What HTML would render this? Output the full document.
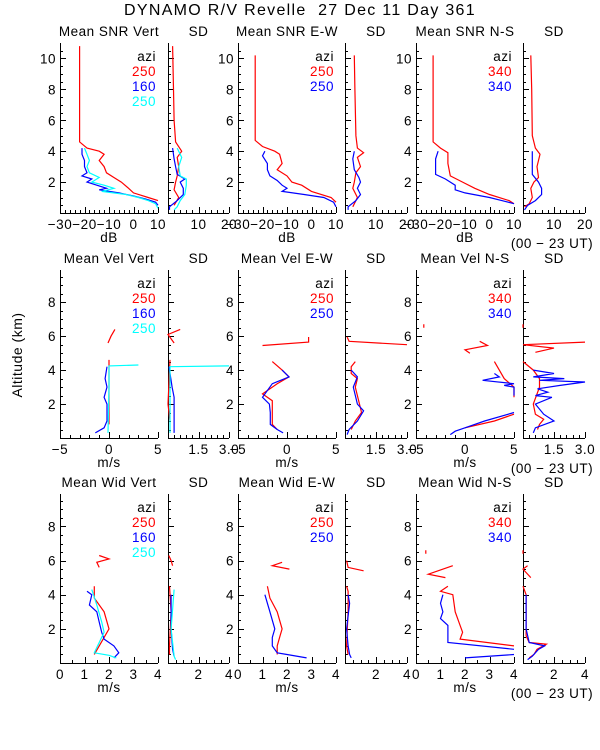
<!DOCTYPE html>
<html><head><meta charset="utf-8">
<style>
html,body{margin:0;padding:0;background:#fff;}
svg{display:block;font-family:"Liberation Sans",sans-serif;}
svg text{white-space:pre;letter-spacing:0.5px;}
</style></head>
<body>
<svg id="chart" width="600" height="750" viewBox="0 0 600 750" xmlns="http://www.w3.org/2000/svg">
<text x="300" y="15" font-size="16" text-anchor="middle" style="letter-spacing:1.3px">DYNAMO R/V Revelle  27 Dec 11 Day 361</text>
<text x="0" y="0" font-size="14" text-anchor="middle" transform="translate(22,355) rotate(-90)">Altitude (km)</text>
<g id="plots"></g>
</svg>
<script>
// ---- data: each series is [value, altitude] pairs; null = gap ----
const snrVertRed=[[-22,10.8],[-22,8],[-22,6],[-22,4.6],[-19,4.2],[-14,4.0],[-12,3.8],[-14,3.4],[-12,3.0],[-11,2.6],[-8,2.3],[-5,2.0],[-2,1.6],[0,1.3],[6,1.0],[10,0.8]];
const snrVertBlue=[[-21,4.2],[-21,3.8],[-20,3.4],[-20,3.0],[-19,2.6],[-21,2.4],[-17,2.2],[-19,2.0],[-15,1.8],[-11,1.6],[-14,1.5],[-6,1.3],[0,1.1],[5,0.9],[9,0.7],[10,0.5]];
const snrVertCyan=[[-20,4.2],[-19,3.8],[-18,3.4],[-19,3.0],[-18,2.6],[-14,2.3],[-17,2.0],[-12,1.8],[-8,1.6],[-13,1.4],[-3,1.2],[2,1.0],[6,0.8],[9,0.6],[10,0.3]];
const sdSnrVertRed=[[1.5,10.8],[1.8,8],[2,6],[2.5,4.6],[4.5,4.0],[3,3.6],[3.5,3.0],[3,2.4],[2.5,2.0],[2,1.5],[3.5,1.0],[2,0.5]];
const sdSnrVertBlue=[[1.5,4.2],[2,3.5],[2.5,3.0],[3,2.5],[5.5,2.2],[4,2.0],[5,1.6],[5,1.2],[3,0.8],[0.5,0.4],[0.5,0.2]];
const sdSnrVertCyan=[[3,4.2],[4.5,3.6],[3.5,3.0],[4,2.4],[6,2.2],[6,1.8],[5.5,1.2],[4,0.8],[3,0.4],[2,0.2]];
const snrEWRed=[[-23,10.2],[-23,8],[-23,6],[-23,4.7],[-20,4.3],[-15,4.0],[-13,3.8],[-12,3.2],[-14,2.8],[-10,2.4],[-8,2.0],[-4,1.8],[0,1.4],[8,1.0],[10,0.7]];
const snrEWBlue=[[-19,4.0],[-20,3.7],[-18,3.2],[-18,2.8],[-17,2.4],[-14,2.1],[-12,1.8],[-10,1.6],[-12,1.4],[-3,1.2],[5,1.0],[9,0.7],[10,0.4]];
const sdSnrEWRed=[[3,10.2],[3.2,8],[3.5,5],[4,4.2],[6,3.9],[4,3.6],[5,3.0],[3.5,2.6],[3,2.0],[2.5,1.6],[4,1.0],[2.5,0.4]];
const sdSnrEWBlue=[[3,4.0],[2.5,3.5],[3,2.8],[4.5,2.3],[5,2.0],[4,1.6],[5,1.2],[3.5,0.8],[1,0.4],[1,0.2]];
const snrNSRed=[[-23,10.2],[-23,8],[-23,6],[-23,4.6],[-20,4.2],[-17,3.9],[-17,3.2],[-16,2.4],[-11,2.0],[-6,1.6],[0,1.2],[8,0.8],[10,0.6]];
const snrNSBlue=[[-21,4.0],[-22,3.5],[-22,2.5],[-18,2.2],[-14,1.8],[-14,1.5],[-10,1.3],[0,1.0],[5,0.8],[10,0.6]];
const sdSnrNSRed=[[2.5,10.2],[2.8,8],[3,5],[4,4.2],[5.5,3.8],[4.5,3.0],[5,2.3],[3.5,2.0],[2.5,1.6],[3,1.0],[2,0.6],[0.5,0.4]];
const sdSnrNSBlue=[[3,4.0],[3,3.5],[3,2.5],[5,2.0],[6,1.6],[6,1.2],[4,0.8],[1.5,0.5],[0.5,0.2]];
const velVertRed=[[0.6,6.4],[0.2,6.0],[-0.1,5.6],null,[0,4.6],[0,4.0],[0,2.0],[0,0.8]];
const velVertBlue=[[-0.2,4.2],[-0.4,3.5],[-0.2,3.0],[-0.5,2.4],[-0.2,2.0],[-0.2,1.0],[-0.5,0.6],[-1.4,0.3]];
const velVertCyan=[[3,4.3],[0,4.25],[0,3.0],[-0.1,0.3]];
const sdVelVertRed=[[0.6,6.4],[0,6.1],[0.3,5.6],null,[0.1,4.6],[0,2.0],[0.1,1.0]];
const sdVelVertBlue=[[0.05,4.2],[0.2,3.0],[0.3,2.4],[0.3,1.4],[0.3,0.3]];
const sdVelVertCyan=[[3.0,4.25],[0.1,4.2],[0.1,0.3]];
const velEWRed=[[-2.5,5.45],[2.2,5.65],[2.2,5.95],null,[-1.5,4.5],[-0.5,4.0],[0.2,3.6],[-1,3.2],[-2.5,2.6],[-1.5,2.2],[-1.5,1.5],[-1.5,0.8],[-1,0.5]];
const velEWBlue=[[-0.5,4.0],[0.2,3.6],[-1.5,3.2],[-2.5,2.4],[-1.8,2.0],[-1.7,1.5],[-1.7,0.8],[-1,0.5],[-0.4,0.3]];
const sdVelEWRed=[[0.1,5.95],[0.2,5.7],[3.0,5.5],null,[0.5,4.5],[0.3,4.2],[0.3,3.8],[0.6,3.5],[0.5,3.0],[0.7,2.0],[0.8,1.5],[0.5,1.0],[0.3,0.5]];
const sdVelEWBlue=[[0.3,4.0],[0.6,3.6],[0.4,3.0],[0.6,2.0],[0.9,1.6],[0.6,1.0],[0.2,0.5],[0.1,0.2]];
const velNSRed=[[-4.2,6.7],[-4.2,6.5],null,[1.5,5.7],[2.3,5.45],[0,5.2],[0.5,5.0],null,[3,4.5],[3.5,4.0],[4,3.5],[5,3.0],[5,2.4],null,[5,1.4],[3,1.0],[0,0.6]];
const velNSBlue=[[3,3.8],[3.5,3.6],[1.8,3.4],[5,3.2],[4,3.1],[5,3.0],[5,2.5],null,[5,1.5],[2,1.0],[0,0.6],[-1,0.4],[-1.5,0.2]];
const sdVelNSRed=[[0,6.7],[0,6.5],null,[3,5.65],[0,5.5],[1.5,5.3],[0.6,5.05],null,[0,4.5],[0.5,4.0],[0.8,3.5],[0.8,3.0],[0.5,2.0],[0.6,1.4],[1.0,1.1],[0.8,0.8],[0.7,0.5]];
const sdVelNSBlue=[[0.5,4.0],[1.5,3.8],[0.5,3.6],[2,3.5],[0.8,3.4],[3,3.3],[1.8,3.1],[0.7,2.9],[1.2,2.7],[0.6,2.5],[1.4,2.4],[0.6,2.0],[1.0,1.4],[1.5,1.0],[0.6,0.6],[0.5,0.3]];
const widVertRed=[[1.6,5.6],[1.5,5.9],[2.0,6.1],[1.6,6.3],null,[1.4,4.5],[1.4,3.8],[1.8,3.0],[2.0,2.0],[1.8,1.5],[1.6,1.0],[1.4,0.5]];
const widVertBlue=[[1.1,4.2],[1.3,4.0],[1.2,3.4],[1.5,3.0],[1.6,2.4],[1.7,1.8],[1.8,1.4],[2.2,1.0],[2.4,0.6],[2.2,0.3]];
const widVertCyan=[[1.3,4.3],[1.5,3.4],[1.7,2.4],[1.8,1.8],[1.6,1.2],[1.4,0.6],[2.0,0.45],[2.3,0.3]];
const sdWidVertRed=[[0.05,6.3],[0.2,6.0],[0.3,5.7],null,[0.1,4.5],[0.2,3.0],[0.1,1.0],[0.1,0.5]];
const sdWidVertBlue=[[0.2,4.0],[0.2,2.0],[0.3,0.8],[0.4,0.4]];
const sdWidVertCyan=[[0.4,4.3],[0.2,2.0],[0.4,0.4],[0.5,0.2]];
const widEWRed=[[1.8,5.9],[1.4,5.7],[2.1,5.5],null,[1.2,4.5],[1.3,3.8],[1.6,3.0],[1.8,2.0],[1.7,1.5],[1.6,1.0],[1.6,0.5]];
const widEWBlue=[[1.1,4.0],[1.2,3.5],[1.3,3.0],[1.5,2.0],[1.4,1.5],[1.4,1.0],[1.6,0.6],[2.0,0.5],[2.8,0.3]];
const sdWidEWRed=[[0.1,6.0],[0.2,5.6],[1.2,5.4],null,[0.1,4.5],[0.2,4.2],[0.2,3.0],[0.15,2.0],[0.1,1.0],[0.2,0.5]];
const sdWidEWBlue=[[0.2,4.0],[0.3,3.5],[0.1,2.0],[0.2,1.0],[0.3,0.5],[0.4,0.3]];
const widNSRed=[[0.4,6.6],[0.4,6.4],null,[1.5,5.7],[0.5,5.2],[1.2,5.0],null,[1.3,4.5],[1.0,4.2],[1.5,4.0],[1.6,3.0],[1.8,2.2],[1.9,1.8],[1.8,1.4],[4,1.0]];
const widNSBlue=[[1.1,4.0],[1.0,3.5],[1.1,3.0],[1.0,2.6],[1.3,2.2],[1.3,1.2],[4,0.8],null,[2,0.3],[4,0.5]];
const sdWidNSRed=[[0,6.6],[0,6.4],null,[0.3,5.7],[0,5.5],[0.5,5.0],null,[0,4.5],[0.2,4.0],[0.2,3.0],[0.2,1.6],[0.4,1.2],[1.5,1.1],[0.9,0.8],[0.7,0.5],[0.4,0.3]];
const sdWidNSBlue=[[0.2,4.0],[0.2,3.0],[0.2,2.0],[0.4,1.2],[1.4,1.0],[1.0,0.8],[0.6,0.4],[0.3,0.2]];

// tick labels
const snrTicks=[-30,-20,-10,0,10];
const sdSnrTicks=[10,20];
const velTicks=[-5,0,5];
const sdVelTicks=[1.5,3.0];
const widTicks=[0,1,2,3,4];
const sdWidTicks=[2,4];
const altTicksRow1=[2,4,6,8,10];
const altTicksRow23=[2,4,6,8];

const NS='http://www.w3.org/2000/svg';
const root=document.getElementById('plots');
function mk(tag,attrs,parent){const e=document.createElementNS(NS,tag);for(const k in attrs)e.setAttribute(k,attrs[k]);(parent||root).appendChild(e);return e;}

const COLS=[{x0:60,x1:158},{x0:168,x1:229},{x0:238,x1:336},{x0:345,x1:407},{x0:416,x1:514},{x0:523,x1:585}];
const ROWS=[{top:43,bot:213,amax:11,ticks:altTicksRow1},{top:270,bot:438,amax:9.9,ticks:altTicksRow23},{top:494,bot:663,amax:9.9,ticks:altTicksRow23}];

function panel(r,c,title,xmin,xmax,xticks,minorStep,xlabel,series,legend,showY,ut){
  const R=ROWS[r],C=COLS[c];
  const g=mk('g',{});
  
  
  const sx=v=>C.x0+(v-xmin)/(xmax-xmin)*(C.x1-C.x0);
  const sy=a=>R.bot-a/R.amax*(R.bot-R.top);
  const t=mk('text',{x:(C.x0+C.x1)/2,y:R.top-7,'font-size':13.5,'text-anchor':'middle'},g);t.textContent=title;
  
  
  const ax=mk('path',{d:`M${C.x0+.5},${R.top}V${R.bot+.5}H${C.x1}`,stroke:'#000',fill:'none','stroke-width':1},g);
  
  
  let d='';
  for(let a=0.5;a<R.amax;a+=0.5){const major=Math.abs(a-Math.round(a/2)*2)<1e-6;d+=`M${C.x0},${Math.round(sy(a))+.5}h${major?6:3}`;}
  for(let v=xmin;v<=xmax+1e-9;v+=minorStep){const major=xticks.some(t=>Math.abs(t-v)<1e-6);d+=`M${Math.round(sx(v))+.5},${R.bot}v${major?-6:-3}`;}
  mk('path',{d:d,stroke:'#000','stroke-width':1},g);
  if(showY){R.ticks.forEach(a=>{const e=mk('text',{x:C.x0-4,y:sy(a)+5,'font-size':13.5,'text-anchor':'end'},g);e.textContent=a;
    
    });}
  xticks.forEach(v=>{const e=mk('text',{x:sx(v),y:R.bot+16,'font-size':13.5,'text-anchor':'middle'},g);e.textContent=(v===3&&xmax===3)?'3.0':(v<0?'\u2212'+(-v):v);
    
    });
  if(xlabel){const e=mk('text',{x:(C.x0+C.x1)/2,y:R.bot+29,'font-size':13.5,'text-anchor':'middle'},g);e.textContent=xlabel;
    
    }
  if(ut){const e=mk('text',{x:(C.x0+C.x1)/2-2,y:R.bot+35,'font-size':13.5,'text-anchor':'middle'},g);e.textContent='(00 \u2212 23 UT)';
    
    }
  series.forEach(s=>{let p='',pen=false;s.data.forEach(pt=>{if(!pt){pen=false;return;}p+=(pen?'L':'M')+sx(pt[0]).toFixed(1)+','+sy(pt[1]).toFixed(1);pen=true;});
    const e=mk('path',{d:p,stroke:s.color,fill:'none','stroke-width':1.2},g);
    
    });
  if(legend){const rows=[['azi','#000']].concat(legend);rows.forEach((L,i)=>{const e=mk('text',{x:C.x1-2,y:R.top+18+i*15,'font-size':13.5,'text-anchor':'end',fill:L[1]},g);e.textContent=L[0];
    
    });}
}
const RED='#ff0000',BLUE='#0000ff',CYAN='#00ffff';
const leg3=[['250',RED],['160',BLUE],['250',CYAN]],leg2=[['250',RED],['250',BLUE]],legNS=[['340',RED],['340',BLUE]];
// row 1
panel(0,0,'Mean SNR Vert',-30,10,snrTicks,2,'dB',[{name:'snr-vert-red',color:RED,data:snrVertRed},{name:'snr-vert-blue',color:BLUE,data:snrVertBlue},{name:'snr-vert-cyan',color:CYAN,data:snrVertCyan}],leg3,true,false);
panel(0,1,'SD',0,20,sdSnrTicks,2,null,[{name:'sd-snr-vert-red',color:RED,data:sdSnrVertRed},{name:'sd-snr-vert-blue',color:BLUE,data:sdSnrVertBlue},{name:'sd-snr-vert-cyan',color:CYAN,data:sdSnrVertCyan}],null,false,false);
panel(0,2,'Mean SNR E-W',-30,10,snrTicks,2,'dB',[{name:'snr-ew-red',color:RED,data:snrEWRed},{name:'snr-ew-blue',color:BLUE,data:snrEWBlue}],leg2,true,false);
panel(0,3,'SD',0,20,sdSnrTicks,2,null,[{name:'sd-snr-ew-red',color:RED,data:sdSnrEWRed},{name:'sd-snr-ew-blue',color:BLUE,data:sdSnrEWBlue}],null,false,false);
panel(0,4,'Mean SNR N-S',-30,10,snrTicks,2,'dB',[{name:'snr-ns-red',color:RED,data:snrNSRed},{name:'snr-ns-blue',color:BLUE,data:snrNSBlue}],legNS,true,false);
panel(0,5,'SD',0,20,sdSnrTicks,2,null,[{name:'sd-snr-ns-red',color:RED,data:sdSnrNSRed},{name:'sd-snr-ns-blue',color:BLUE,data:sdSnrNSBlue}],null,false,true);
// row 2
panel(1,0,'Mean Vel Vert',-5,5,velTicks,1,'m/s',[{name:'vel-vert-red',color:RED,data:velVertRed},{name:'vel-vert-blue',color:BLUE,data:velVertBlue},{name:'vel-vert-cyan',color:CYAN,data:velVertCyan}],leg3,true,false);
panel(1,1,'SD',0,3,sdVelTicks,0.3,null,[{name:'sd-vel-vert-red',color:RED,data:sdVelVertRed},{name:'sd-vel-vert-blue',color:BLUE,data:sdVelVertBlue},{name:'sd-vel-vert-cyan',color:CYAN,data:sdVelVertCyan}],null,false,false);
panel(1,2,'Mean Vel E-W',-5,5,velTicks,1,'m/s',[{name:'vel-ew-red',color:RED,data:velEWRed},{name:'vel-ew-blue',color:BLUE,data:velEWBlue}],leg2,true,false);
panel(1,3,'SD',0,3,sdVelTicks,0.3,null,[{name:'sd-vel-ew-red',color:RED,data:sdVelEWRed},{name:'sd-vel-ew-blue',color:BLUE,data:sdVelEWBlue}],null,false,false);
panel(1,4,'Mean Vel N-S',-5,5,velTicks,1,'m/s',[{name:'vel-ns-red',color:RED,data:velNSRed},{name:'vel-ns-blue',color:BLUE,data:velNSBlue}],legNS,true,false);
panel(1,5,'SD',0,3,sdVelTicks,0.3,null,[{name:'sd-vel-ns-red',color:RED,data:sdVelNSRed},{name:'sd-vel-ns-blue',color:BLUE,data:sdVelNSBlue}],null,false,true);
// row 3
panel(2,0,'Mean Wid Vert',0,4,widTicks,0.5,'m/s',[{name:'wid-vert-red',color:RED,data:widVertRed},{name:'wid-vert-blue',color:BLUE,data:widVertBlue},{name:'wid-vert-cyan',color:CYAN,data:widVertCyan}],leg3,true,false);
panel(2,1,'SD',0,4,sdWidTicks,0.5,null,[{name:'sd-wid-vert-red',color:RED,data:sdWidVertRed},{name:'sd-wid-vert-blue',color:BLUE,data:sdWidVertBlue},{name:'sd-wid-vert-cyan',color:CYAN,data:sdWidVertCyan}],null,false,false);
panel(2,2,'Mean Wid E-W',0,4,widTicks,0.5,'m/s',[{name:'wid-ew-red',color:RED,data:widEWRed},{name:'wid-ew-blue',color:BLUE,data:widEWBlue}],leg2,true,false);
panel(2,3,'SD',0,4,sdWidTicks,0.5,null,[{name:'sd-wid-ew-red',color:RED,data:sdWidEWRed},{name:'sd-wid-ew-blue',color:BLUE,data:sdWidEWBlue}],null,false,false);
panel(2,4,'Mean Wid N-S',0,4,widTicks,0.5,'m/s',[{name:'wid-ns-red',color:RED,data:widNSRed},{name:'wid-ns-blue',color:BLUE,data:widNSBlue}],legNS,true,false);
panel(2,5,'SD',0,4,sdWidTicks,0.5,null,[{name:'sd-wid-ns-red',color:RED,data:sdWidNSRed},{name:'sd-wid-ns-blue',color:BLUE,data:sdWidNSBlue}],null,false,true);
</script>
</body></html>
